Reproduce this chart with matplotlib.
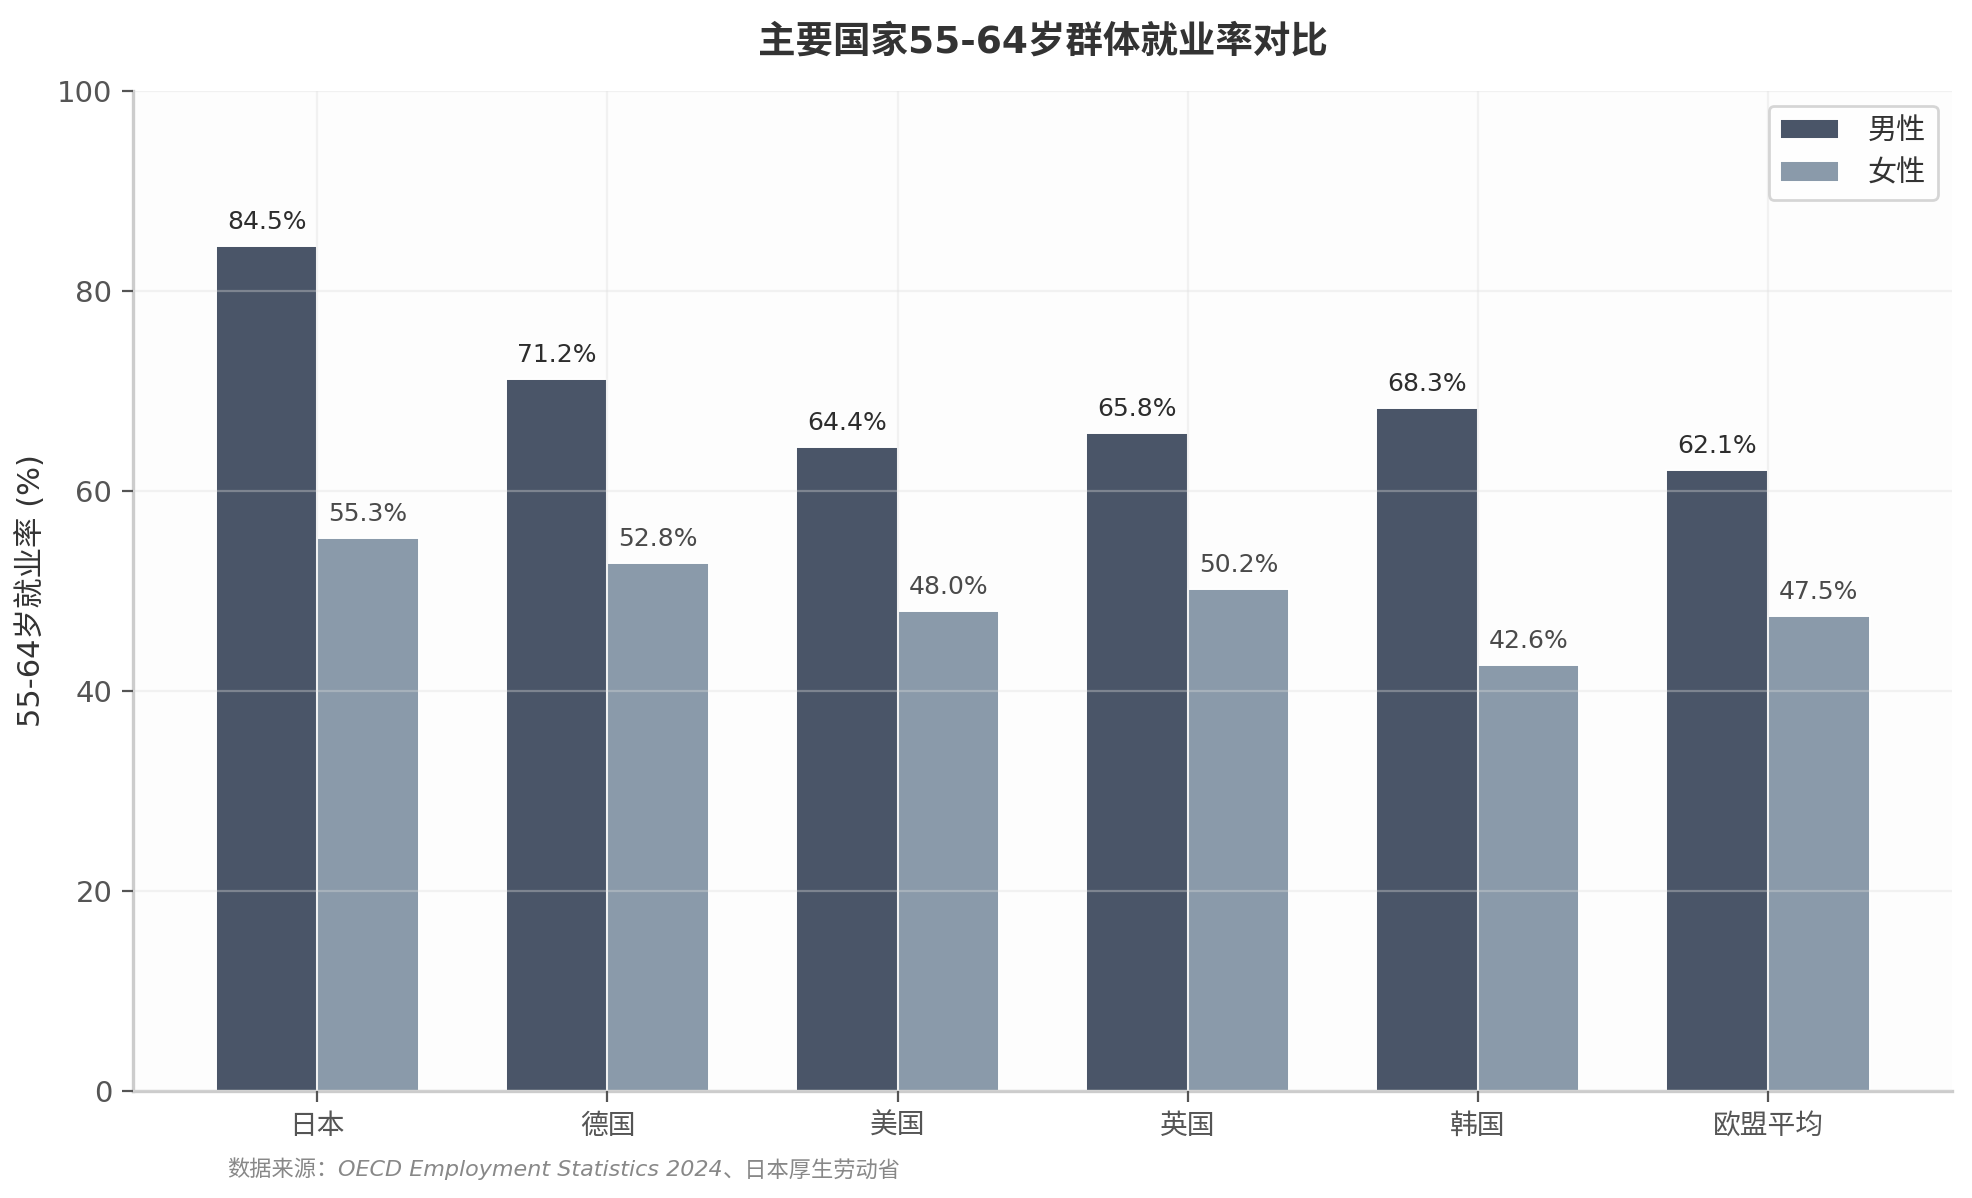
import numpy as np
import matplotlib
matplotlib.use("Agg")
import matplotlib.pyplot as plt

plt.rcParams['font.family'] = ['DejaVu Sans', 'Noto Sans CJK SC']

countries = ['日本', '德国', '美国', '英国', '韩国', '欧盟平均']
male = [84.5, 71.2, 64.4, 65.8, 68.3, 62.1]
female = [55.3, 52.8, 48.0, 50.2, 42.6, 47.5]
series_names = ['男性', '女性']

c_male = '#4a5568'
c_female = '#8a9aaa'

fig = plt.figure(figsize=(9.86, 5.99), dpi=200)
ax = fig.add_axes([0.0675, 0.0893, 0.9225, 0.8347])
ax.set_facecolor('#fdfdfd')

x = np.arange(len(countries))
w = 0.35
b1 = ax.bar(x - w/2, male, w, color=c_male, edgecolor='white', linewidth=0.7, label=series_names[0], zorder=1)
b2 = ax.bar(x + w/2, female, w, color=c_female, edgecolor='white', linewidth=0.7, label=series_names[1], zorder=1)

for rect, v in zip(b1, male):
    ax.text(rect.get_x() + rect.get_width()/2, v + 1.2, f'{v:.1f}%', ha='center', va='bottom',
            fontsize=9, color='#2d2d2d')
for rect, v in zip(b2, female):
    ax.text(rect.get_x() + rect.get_width()/2, v + 1.2, f'{v:.1f}%', ha='center', va='bottom',
            fontsize=9, color='#4a4a4a')

ax.set_ylim(0, 100)
ax.set_xticks(x)
ax.set_xticklabels(countries, fontsize=10, color='#555555')
ax.tick_params(axis='y', labelsize=10.5, labelcolor='#555555', color='#555555', length=4)
ax.tick_params(axis='x', color='#555555', length=4)

ax.set_axisbelow(False)
ax.grid(True, color='#dddddd', alpha=0.35, linewidth=0.8, zorder=2)

for s in ['top', 'right']:
    ax.spines[s].set_visible(False)
for s in ['left', 'bottom']:
    ax.spines[s].set_color('#cccccc')
    ax.spines[s].set_linewidth(1.2)

ax.set_ylabel('55-64岁就业率 (%)', fontsize=11, color='#333333')
ax.set_title('主要国家55-64岁群体就业率对比', fontsize=13.5, fontweight='bold', color='#333333', pad=14)

leg = ax.legend(loc='upper right', fontsize=10.5, frameon=True, edgecolor='#cccccc', fancybox=True,
                handlelength=2.0, handletextpad=1.0)
for t in leg.get_texts():
    t.set_color('#333333')

# footnote, pieces chained so they do not overlap
fs = 8
t1 = fig.text(0.115, 0.018, '数据来源：', fontsize=fs, color='#888888', ha='left', va='baseline')
t2 = ax.annotate('OECD Employment Statistics 2024', xy=(1, 0), xycoords=t1, fontsize=fs,
                 color='#888888', style='italic', ha='left', va='bottom', annotation_clip=False)
t3 = ax.annotate('、日本厚生劳动省', xy=(1, 0), xycoords=t2, fontsize=fs,
                 color='#888888', ha='left', va='bottom', annotation_clip=False)

fig.savefig('out.png', dpi=200)
